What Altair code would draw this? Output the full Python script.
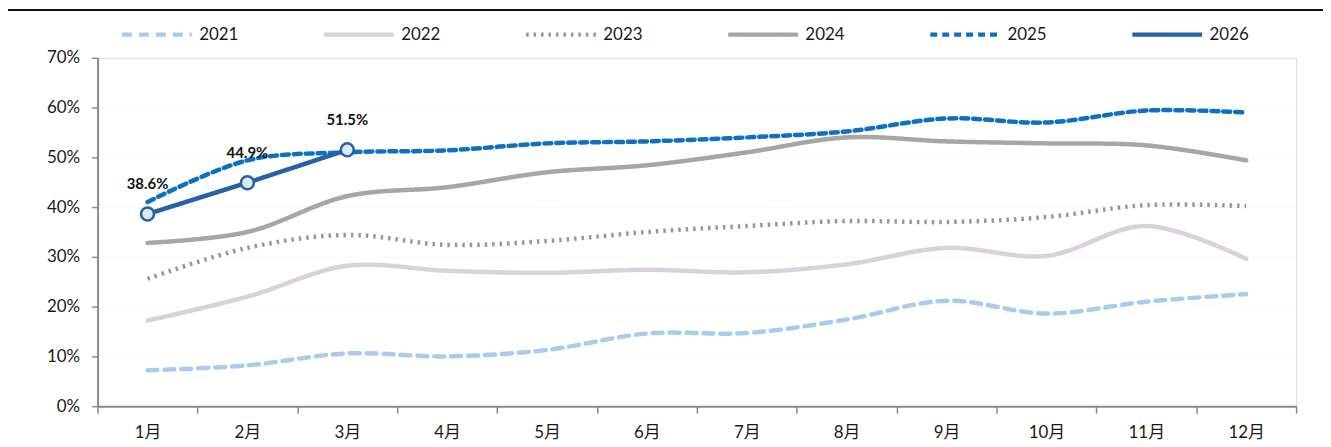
import altair as alt
import pandas as pd

months = ["1月", "2月", "3月", "4月", "5月", "6月", "7月", "8月", "9月", "10月", "11月", "12月"]
years = ["2021", "2022", "2023", "2024", "2025", "2026"]

v2021 = [7.2, 8.2, 10.6, 10.0, 11.3, 14.6, 14.7, 17.4, 21.2, 18.6, 21.0, 22.5]
v2022 = [17.2, 22.0, 28.2, 27.2, 26.8, 27.4, 26.9, 28.5, 31.8, 30.2, 36.2, 29.6]
v2023 = [25.6, 31.8, 34.4, 32.4, 33.2, 35.0, 36.2, 37.2, 37.0, 38.0, 40.4, 40.2]
v2024 = [32.8, 35.0, 42.2, 44.0, 47.0, 48.4, 51.0, 54.0, 53.2, 52.8, 52.4, 49.4]
v2025 = [41.0, 49.4, 51.0, 51.4, 52.8, 53.2, 54.0, 55.2, 57.8, 57.0, 59.4, 59.0]
v2026 = [38.6, 44.9, 51.5]

colors = ["#a9cbee", "#d9d2da", "#9f91a1", "#a6a6a6", "#0e70c0", "#2563a6"]
dashes = [[10, 7], [1, 0], [2.5, 5], [1, 0], [7, 5], [1, 0]]
widths = [4.5, 4.5, 3.8, 4.5, 3.2, 4.5]

series = [v2021, v2022, v2023, v2024, v2025, v2026]
rows = []
for y, vals in zip(years, series):
    for m, v in zip(months, vals):
        rows.append({"month": m, "year": y, "value": v / 100.0})
df = pd.DataFrame(rows)

FONT = "Lato, Noto Sans CJK SC"

x_enc = alt.X("month:N", sort=months, bandPosition=0.5,
              scale=alt.Scale(type="band", domain=months, paddingInner=0, paddingOuter=0),
              axis=alt.Axis(title=None, tickBand="extent", labelAngle=0, domainColor="#8a8a8a",
                            domainWidth=2, tickColor="#8a8a8a", tickWidth=1.5, tickSize=7,
                            labelPadding=11, labelFontSize=17, labelColor="#1a1a1a",
                            labelFont=FONT, grid=False))
y_enc = alt.Y("value:Q", scale=alt.Scale(domain=[0, 0.7], nice=False),
              axis=alt.Axis(title=None, format=".0%", values=[0, 0.1, 0.2, 0.3, 0.4, 0.5, 0.6, 0.7],
                            domainColor="#8a8a8a", domainWidth=2, tickColor="#8a8a8a",
                            tickWidth=1.5, tickSize=6, labelPadding=12, labelFontSize=17,
                            labelColor="#1a1a1a", labelFont=FONT, grid=True,
                            gridColor="#e4e4e4", gridDash=[1, 3], gridWidth=1))

color_enc = alt.Color("year:N", scale=alt.Scale(domain=years, range=colors),
                      legend=alt.Legend(title=None, orient="none", legendX=22, legendY=-61,
                                        direction="horizontal", columns=6, symbolType="stroke",
                                        symbolSize=4900, labelFontSize=17, labelFont=FONT,
                                        labelColor="#1a1a1a", labelOffset=5, columnPadding=76,
                                        symbolStrokeWidth=4))
dash_enc = alt.StrokeDash("year:N", scale=alt.Scale(domain=years, range=dashes), legend=None)
width_enc = alt.StrokeWidth("year:N", scale=alt.Scale(domain=years, range=widths), legend=None)

base = alt.Chart(df)

smooth = base.transform_filter(
    (alt.datum.year != "2026") & (alt.datum.year != "2023")).mark_line(
    interpolate="catmull-rom", strokeCap="round").encode(
    x=x_enc, y=y_enc, color=color_enc, strokeDash=dash_enc, strokeWidth=width_enc)

dotted = base.transform_filter(alt.datum.year == "2023").mark_line(
    interpolate="catmull-rom", strokeCap="butt").encode(
    x=x_enc, y=y_enc, color=color_enc, strokeDash=dash_enc, strokeWidth=width_enc)

line26 = base.transform_filter(alt.datum.year == "2026").mark_line(strokeCap="round").encode(
    x=x_enc, y=y_enc, color=color_enc, strokeDash=dash_enc, strokeWidth=width_enc)

pts26 = base.transform_filter(alt.datum.year == "2026").mark_point(
    shape="circle", size=170, filled=False, fill="#dde9f1", fillOpacity=1,
    stroke="#2563a6", strokeWidth=2.5, opacity=1).encode(x=x_enc, y=y_enc)

txt26 = base.transform_filter(alt.datum.year == "2026").mark_text(
    dy=-30, fontSize=15, fontWeight="bold", font=FONT, color="#111111").encode(
    x=x_enc, y=y_enc, text=alt.Text("value:Q", format=".1%"))

topline = alt.Chart(pd.DataFrame({"k": [0]})).mark_rule(color="#111111", strokeWidth=2).encode(
    x=alt.value(-90), x2=alt.value(1233), y=alt.value(-48))

chart = alt.layer(topline, dotted, smooth, line26, pts26, txt26).properties(
    width=1204, height=350,
    autosize=alt.AutoSizeParams(type="none"),
    padding={"left": 90, "top": 49, "right": 27, "bottom": 38},
).configure_view(stroke=None).configure(background="white")

chart.save("out.html", embed_options={"renderer": "svg", "actions": False})
